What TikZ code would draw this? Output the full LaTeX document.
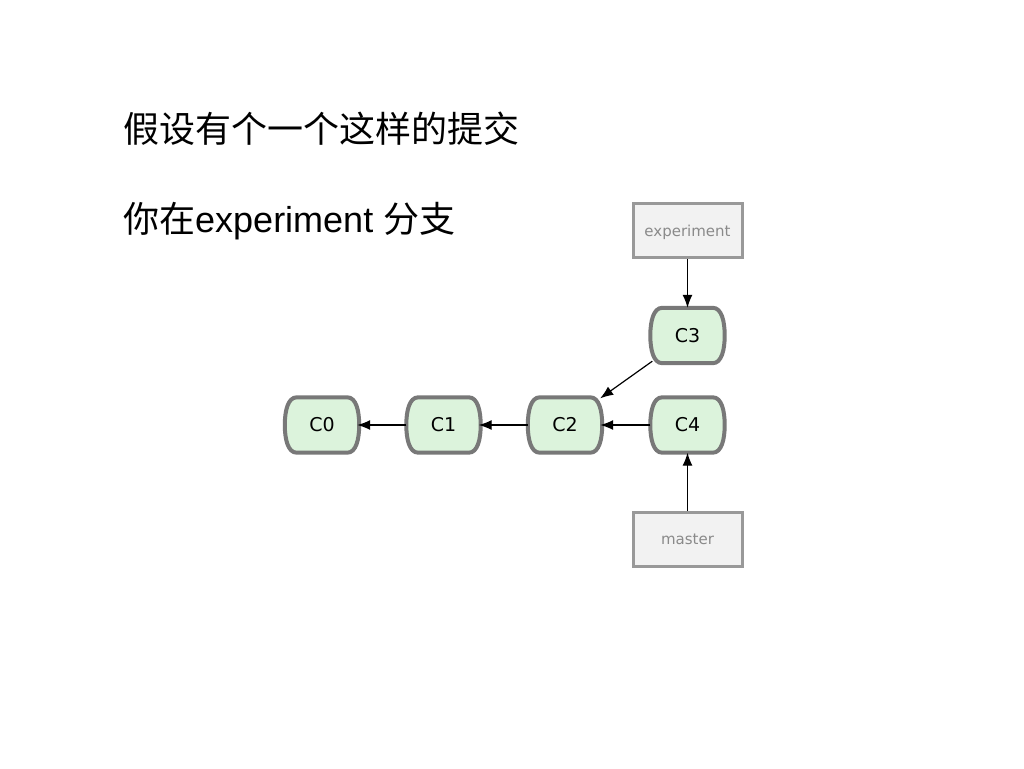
\documentclass[tikz,border=0pt]{standalone}
\usepackage{fontspec}
\setmainfont{Liberation Sans}
\newfontfamily\cjk{Noto Sans CJK SC}
\newfontfamily\lbl{DejaVu Sans}
\usetikzlibrary{arrows.meta,backgrounds}
\definecolor{commitfill}{HTML}{DCF3DC}
\definecolor{commitline}{HTML}{787878}
\definecolor{reffill}{HTML}{F2F2F2}
\definecolor{refline}{HTML}{999999}
\definecolor{reftext}{HTML}{8A8A8A}
\tikzset{
  commit/.style={inner sep=0pt, minimum width=74pt, minimum height=55pt, font=\lbl\fontsize{19}{19}\selectfont},
  cborder/.style={draw=commitline, fill=commitfill, line width=4pt},
  refbox/.style={draw=refline, fill=reffill, line width=3pt, inner sep=0pt, minimum width=109pt, minimum height=54pt, text depth=0pt, text=reftext, font=\lbl\fontsize{15}{15}\selectfont},
  conn/.style={-{Latex[length=13pt,width=10pt]}, line width=1.2pt, black},
  title/.style={anchor=base west, inner sep=0pt, font=\fontsize{36}{36}\selectfont}
}
\newcommand\commitoutline[1]{%
  \path[cborder] ([xshift=12pt]#1.north west) -- ([xshift=-12pt]#1.north east)
    .. controls ([xshift=-3pt]#1.north east) and ([yshift=14pt]#1.east) .. (#1.east)
    .. controls ([yshift=-14pt]#1.east) and ([xshift=-3pt]#1.south east) .. ([xshift=-12pt]#1.south east)
    -- ([xshift=12pt]#1.south west)
    .. controls ([xshift=3pt]#1.south west) and ([yshift=-14pt]#1.west) .. (#1.west)
    .. controls ([yshift=14pt]#1.west) and ([xshift=3pt]#1.north west) .. ([xshift=12pt]#1.north west) -- cycle;}
\begin{document}
\begin{tikzpicture}[x=1pt,y=-1pt]
\begin{scope}[on background layer]
\fill[white] (0,0) rectangle (1024,768);
\end{scope}
\useasboundingbox (0,0) rectangle (1024,768);
\node[title] (t1) at (123,142) {\cjk 假设有个一个这样的提交};
\node[title] (t2) at (123,232) {{\cjk 你在}experiment {\cjk 分支}};
\node[commit] (c0) at (322,425) {C0};
\node[commit] (c1) at (443.5,425) {C1};
\node[commit] (c2) at (565,425) {C2};
\node[commit] (c4) at (687.5,425) {C4};
\node[commit] (c3) at (687.5,335.5) {C3};
\begin{scope}[on background layer]
\commitoutline{c0}
\commitoutline{c1}
\commitoutline{c2}
\commitoutline{c3}
\commitoutline{c4}
\end{scope}
\node[refbox] (exp) at (687.5,230.5) {experiment};
\node[refbox] (mas) at (687.5,539) {master};
\draw[conn] (exp.south) -- (c3.north);
\draw[conn] (mas.north) -- (c4.south);
\draw[conn] (c4.west) -- ([xshift=-2pt]c2.east);
\draw[conn] (c2.west) -- ([xshift=-2pt]c1.east);
\draw[conn] (c1.west) -- ([xshift=-2pt]c0.east);
\draw[conn] ([shift={(2pt,2pt)}]c3.south west) -- ([shift={(-2pt,-1pt)}]c2.north east);
\end{tikzpicture}
\end{document}
